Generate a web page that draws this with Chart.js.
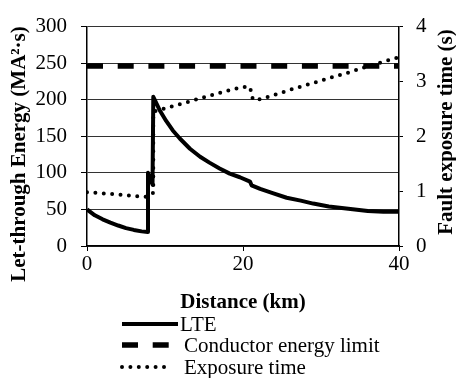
<!DOCTYPE html>
<html>
<head>
<meta charset="utf-8">
<script src="https://cdn.jsdelivr.net/npm/chart.js@4/dist/chart.umd.min.js"></script>
<style>
  html, body { margin: 0; padding: 0; background: #fff; }
  #wrap { position: relative; width: 456px; height: 378px; }
</style>
</head>
<body>
<div id="wrap"><canvas id="c" width="456" height="378"></canvas></div>
<script>
// ---- data ----
const lteDistance = [0, 1, 2, 3, 4, 5, 6, 7, 7.8, 7.82, 8.4, 8.5, 9.3, 10.15, 11, 11.9, 13.2, 14.5, 15.7, 17, 18.3, 19.6, 20.9, 21.1, 22.2, 23.9, 25.6, 27.4, 29, 31, 33.5, 36, 38, 40];
const lteValues   = [50, 42, 36.5, 32, 28, 24.5, 22, 20, 19, 100, 84, 204, 186, 171, 158, 147, 133, 122, 114, 106, 99, 94, 88, 83, 78, 72, 66, 62, 58, 54, 51, 48, 47, 47];

const limitDistance = [0, 40];
const limitValues   = [246, 246];

const expDistance = [0, 2, 4, 6, 7, 7.8, 8.5, 8.5, 10.5, 12, 14, 16, 18, 20, 20.9, 21.2, 21.5, 23, 25, 27, 29, 31, 33, 35, 37, 39, 40];
const expValues   = [0.98, 0.96, 0.94, 0.91, 0.9, 0.9, 0.97, 2.45, 2.53, 2.59, 2.67, 2.75, 2.83, 2.9, 2.9, 2.7, 2.65, 2.71, 2.8, 2.89, 2.97, 3.06, 3.14, 3.23, 3.32, 3.4, 3.44];

const seriesNames = ['LTE', 'Conductor energy limit', 'Exposure time'];
const xTitle = 'Distance (km)';
const yLeftTitle = 'Let-through Energy (MA\u00b2\u00b7s)';
const yRightTitle = 'Fault exposure time (s)';

const toPts = (xs, ys) => xs.map((x, i) => ({ x: x, y: ys[i] }));

const FONT = '"Liberation Serif", "Times New Roman", serif';

// custom drawing of rotated axis titles and the stacked legend
const extras = {
  id: 'extras',
  afterDraw(chart) {
    const ctx = chart.ctx;
    ctx.save();
    ctx.fillStyle = '#000';
    ctx.font = 'bold 21px ' + FONT;
    ctx.textAlign = 'center';
    ctx.textBaseline = 'middle';
    // left title
    ctx.save();
    ctx.translate(20, 154);
    ctx.rotate(-Math.PI / 2);
    ctx.fillText(chart.options.scales.y.title.text, 0, 0);
    ctx.restore();
    // right title (reads bottom to top)
    ctx.save();
    ctx.translate(447, 132);
    ctx.rotate(-Math.PI / 2);
    ctx.fillText(chart.options.scales.y2.title.text, 0, 0);
    ctx.restore();

    // legend
    const rows = [324, 345, 367];
    const sampleEnd = [178, 172, 168];
    const textX = [180, 184, 184];
    ctx.font = '21px ' + FONT;
    ctx.textAlign = 'left';
    chart.data.datasets.forEach((ds, i) => {
      ctx.save();
      ctx.strokeStyle = ds.borderColor;
      ctx.lineWidth = ds.borderWidth;
      ctx.lineCap = ds.borderCapStyle || 'butt';
      ctx.setLineDash(ds.borderDash || []);
      ctx.beginPath();
      ctx.moveTo(122, rows[i]);
      ctx.lineTo(sampleEnd[i], rows[i]);
      ctx.stroke();
      ctx.restore();
      ctx.fillText(ds.label, textX[i], rows[i] + 1);
    });
    ctx.restore();
  }
};

new Chart(document.getElementById('c'), {
  type: 'line',
  data: {
    datasets: [
      {
        label: seriesNames[0],
        data: toPts(lteDistance, lteValues),
        yAxisID: 'y',
        borderColor: '#000',
        borderWidth: 4,
        pointRadius: 0,
        tension: 0,
        borderJoinStyle: 'round'
      },
      {
        label: seriesNames[1],
        data: toPts(limitDistance, limitValues),
        yAxisID: 'y',
        borderColor: '#000',
        borderWidth: 5.5,
        borderDash: [16, 14.7],
        borderCapStyle: 'butt',
        pointRadius: 0,
        tension: 0
      },
      {
        label: seriesNames[2],
        data: toPts(expDistance, expValues),
        yAxisID: 'y2',
        borderColor: '#000',
        borderWidth: 4,
        borderDash: [0, 8.4],
        borderCapStyle: 'round',
        pointRadius: 0,
        tension: 0
      }
    ]
  },
  options: {
    responsive: false,
    animation: false,
    devicePixelRatio: 1,
    layout: { padding: { top: 19, left: 0, right: 0, bottom: 0 } },
    plugins: {
      legend: { display: false },
      tooltip: { enabled: false }
    },
    scales: {
      x: {
        type: 'linear',
        min: 0,
        max: 40,
        afterFit: (s) => { s.height = 132; },
        ticks: {
          stepSize: 20,
          color: '#000',
          font: { family: FONT, size: 21 },
          padding: 1,
          maxRotation: 0
        },
        grid: { drawOnChartArea: false, tickLength: 5, tickColor: '#000', tickWidth: 1 },
        border: { color: '#000', width: 1.5 },
        title: {
          display: true,
          text: xTitle,
          color: '#000',
          font: { family: FONT, size: 21, weight: 'bold', lineHeight: 1 },
          padding: { top: 0, bottom: 64.5 }
        }
      },
      y: {
        position: 'left',
        min: 0,
        max: 300,
        afterFit: (s) => { s.width = 87; },
        ticks: {
          stepSize: 50,
          color: '#000',
          font: { family: FONT, size: 21 },
          padding: 14
        },
        grid: { color: '#333', lineWidth: 1, tickLength: 6, tickColor: '#000' },
        border: { color: '#000', width: 1.5 },
        title: { display: false, text: yLeftTitle }
      },
      y2: {
        position: 'right',
        min: 0,
        max: 4,
        afterFit: (s) => { s.width = 57; },
        ticks: {
          stepSize: 1,
          color: '#000',
          font: { family: FONT, size: 21 },
          padding: 13
        },
        grid: { drawOnChartArea: false, tickLength: 4, tickColor: '#000' },
        border: { color: '#000', width: 1.5 },
        title: { display: false, text: yRightTitle }
      }
    }
  },
  plugins: [extras]
});
</script>
</body>
</html>
